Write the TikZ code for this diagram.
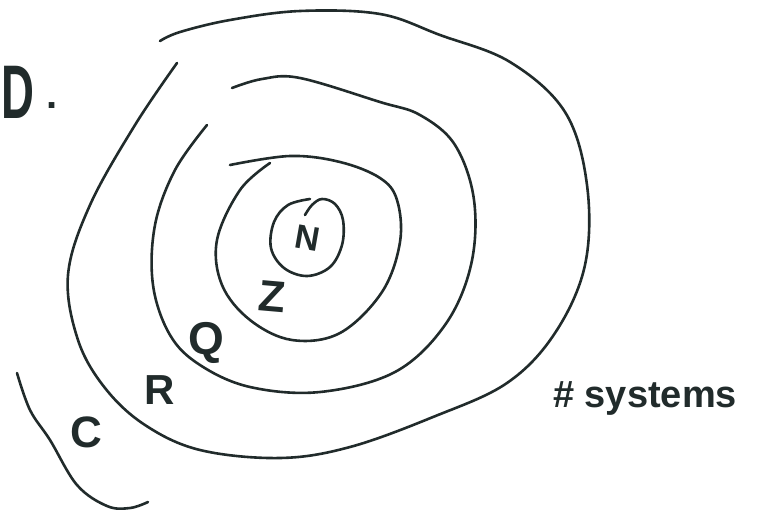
\documentclass[tikz,border=0pt]{standalone}
\usepackage{fontspec}
\setmainfont{Liberation Sans}
\usepackage{tikz}
\definecolor{ink}{rgb}{0.13,0.17,0.17}

\begin{document}
\begin{tikzpicture}[
    x=1pt, y=-1pt,
    ring/.style={draw=ink, line width=2.6pt, line cap=round, line join=round},
    setname/.style={text=ink, inner sep=0pt, font=\bfseries\fontsize{#1}{#1}\selectfont},
    setname/.default=40
]
\useasboundingbox (0,0) rectangle (759,512);

% Rings, inside out
\draw[ring] plot[smooth, tension=0.6] coordinates {(305,215) (312,205) (322,199) (335,204) (343,220)
    (342,245) (330,267) (307,276) (284,268) (271,248) (274,222) (288,205) (310,199)};
\draw[ring] plot[smooth, tension=0.6] coordinates {(270,163) (240,190) (217,240) (222,285) (250,320)
    (292,340) (340,333) (382,292) (400,242) (397,200) (380,178) (340,162) (290,156) (230,165)};
\draw[ring] plot[smooth, tension=0.6] coordinates {(207,125) (175,170) (155,225) (153,285) (170,335)
    (200,365) (250,387) (320,392) (395,372) (445,325) (471,265) (474,200) (455,145) (420,115)
    (380,102) (300,78) (262,79) (232,88)};
\draw[ring] plot[smooth, tension=0.6] coordinates {(177,63) (135,125) (90,205) (68,275) (78,340)
    (105,388) (145,425) (200,450) (280,458) (350,447) (433,417) (507,383) (555,333) (585,265)
    (587,185) (565,112) (510,62) (440,35) (380,14) (300,11) (230,20) (180,32) (160,41)};
\draw[ring] plot[smooth, tension=0.6] coordinates {(17,373) (30,410) (50,440) (77,485) (107,506)
    (130,508) (148,502)};

% Labels
\node[setname=34, rotate=-10] (nat) at (308,238) {N};
\node[setname=44, rotate=-5] (int) at (272,297) {Z};
\node[setname=46] (rat) at (206,343) {Q};
\node[setname=42] (real) at (160,390) {R};
\node[setname=44] (cplx) at (86,432) {C};
\node[setname=38, anchor=west] (title) at (553,398) {\# systems};
\node[setname=76, anchor=west, xscale=0.6] (num) at (1,92) {D};
\node[setname=40] (dot) at (52,106) {.};

\end{tikzpicture}
\end{document}
